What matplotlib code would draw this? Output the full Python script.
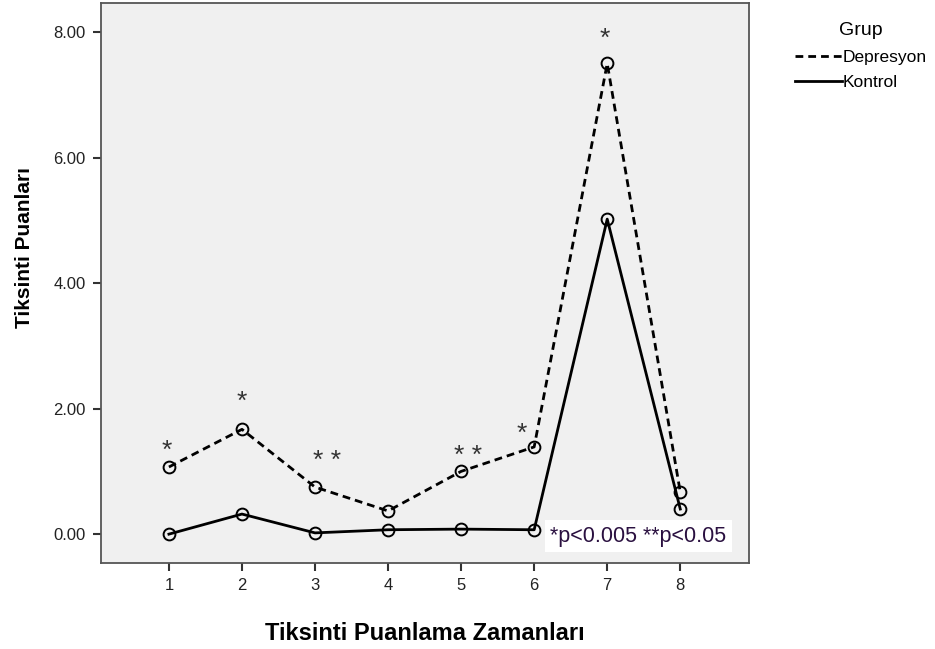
import matplotlib
matplotlib.use('Agg')
import matplotlib.pyplot as plt
from matplotlib.lines import Line2D

plt.rcParams['font.family'] = ['Liberation Sans', 'DejaVu Sans']

zaman = [1, 2, 3, 4, 5, 6, 7, 8]
depresyon = [1.07, 1.67, 0.75, 0.37, 1.00, 1.39, 7.50, 0.67]
kontrol = [0.00, 0.32, 0.02, 0.07, 0.08, 0.07, 5.02, 0.40]

# significance markers: (x, y, text)
yildiz_x = [0.97, 2.0, 3.17, 5.1, 5.83, 6.97]
yildiz_y = [1.32, 2.1, 1.17, 1.25, 1.6, 7.9]
yildiz_txt = ['*', '*', '* *', '* *', '*', '*']

fig = plt.figure(figsize=(9.35, 6.49), dpi=100)
ax = fig.add_axes([0.108, 0.1325, 0.693, 0.8625])
ax.set_facecolor('#f0f0f0')

ax.plot(zaman, depresyon, color='black', lw=2.0, ls=(0, (2.8, 1.8)),
        marker='o', ms=8.5, mfc='none', mec='black', mew=1.4)
ax.plot(zaman, kontrol, color='black', lw=2.0, ls='-',
        marker='o', ms=8.5, mfc='none', mec='black', mew=1.4)

for x, y, t in zip(yildiz_x, yildiz_y, yildiz_txt):
    ax.text(x, y, t, ha='center', va='center', fontsize=19, color='#333333')

ax.text(6.22, -0.03, '*p<0.005 **p<0.05', ha='left', va='center', fontsize=15.5,
        color='#2a1040',
        bbox=dict(facecolor='white', edgecolor='none', pad=4))

ax.set_xlim(0.07, 8.94)
ax.set_ylim(-0.46, 8.46)
ax.set_xticks(zaman)
ax.set_yticks([0, 2, 4, 6, 8])
ax.set_yticklabels(['0.00', '2.00', '4.00', '6.00', '8.00'])
ax.tick_params(direction='out', length=6, width=1.5, colors='#333333',
               labelsize=12, labelcolor='#222222', pad=5)
for s in ax.spines.values():
    s.set_color('#555555')
    s.set_linewidth(1.3)

ax.set_xlabel('Tiksinti Puanlama Zamanları', fontsize=17, fontweight='bold', labelpad=21)
ax.set_ylabel('Tiksinti Puanları', fontsize=15, fontweight='bold')
ax.yaxis.set_label_coords(-0.104, 0.564)

handles = [Line2D([], [], color='black', lw=2.0, ls=(0, (2.8, 1.8))),
           Line2D([], [], color='black', lw=2.0)]
leg = fig.legend(handles, ['Depresyon', 'Kontrol'], title='Grup',
                 loc='upper left', bbox_to_anchor=(0.834, 0.99), frameon=False,
                 fontsize=12.5, title_fontsize=14, handlelength=2.7,
                 handletextpad=0.0, labelspacing=0.6)
leg.get_title().set_ha('center')

fig.savefig('out.png', dpi=100)
